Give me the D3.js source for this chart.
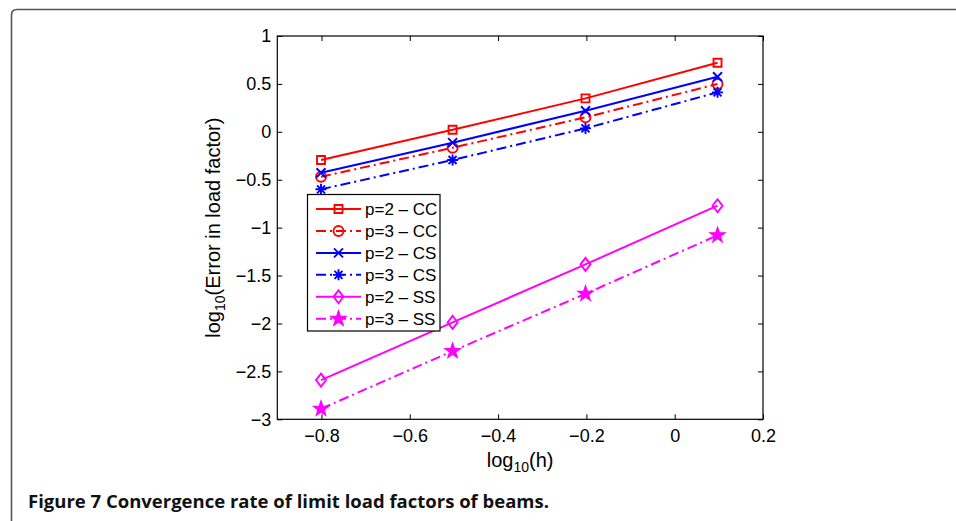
<!DOCTYPE html>
<html>
<head>
<meta charset="utf-8">
<script src="https://cdn.jsdelivr.net/npm/d3@7/dist/d3.min.js"></script>
<style>
  html, body { margin: 0; padding: 0; background: #fff; }
  svg { display: block; }
  .tick text { font-family: "Liberation Sans", Arial, Helvetica, sans-serif; font-size: 18px; fill: #000; }
</style>
</head>
<body>
<svg id="chart" width="956" height="521"></svg>
<script>
// x positions (log10 of mesh size h)
const logH = [-0.801, -0.503, -0.202, 0.097];

// log10 of the error in the limit load factor, one array per case
const cc2 = [-0.294, 0.022, 0.349, 0.721];
const cc3 = [-0.469, -0.166, 0.151, 0.499];
const cs2 = [-0.427, -0.113, 0.220, 0.575];
const cs3 = [-0.600, -0.294, 0.036, 0.412];
const ss2 = [-2.591, -1.989, -1.383, -0.771];
const ss3 = [-2.890, -2.288, -1.690, -1.080];

const seriesNames = ["p=2 \u2013 CC", "p=3 \u2013 CC", "p=2 \u2013 CS", "p=3 \u2013 CS", "p=2 \u2013 SS", "p=3 \u2013 SS"];
const seriesColors = ["#ff0000", "#ff0000", "#0000ff", "#0000ff", "#ff00ff", "#ff00ff"];
const seriesMarkers = ["square", "circle", "cross", "asterisk", "diamond", "star"];
const seriesDashed = [false, true, false, true, false, true];

const xTicks = [-0.8, -0.6, -0.4, -0.2, 0, 0.2];
const yTicks = [-3, -2.5, -2, -1.5, -1, -0.5, 0, 0.5, 1];

const captionText = "Figure 7 Convergence rate of limit load factors of beams.";

const seriesValues = [cc2, cc3, cs2, cs3, ss2, ss3];

const svg = d3.select("#chart");
const FONT = '"Liberation Sans", Arial, Helvetica, sans-serif';

// page frame with rounded upper-left corner
svg.append("path")
  .attr("d", "M11.5,521 L11.5,15 Q11.5,9.5 17,9.5 L956,9.5")
  .attr("fill", "none")
  .attr("stroke", "#555")
  .attr("stroke-width", 1.6);

const plot = { left: 277.3, right: 763, top: 36, bottom: 419.3 };

const x = d3.scaleLinear().domain([-0.9, 0.2]).range([plot.left, plot.right]);
const y = d3.scaleLinear().domain([-3, 1]).range([plot.bottom, plot.top]);

const fmt = d3.format("~g");

// axes: ticks pointing inward on all four sides
const gB = svg.append("g").attr("transform", `translate(0,${plot.bottom})`)
  .call(d3.axisBottom(x).tickValues(xTicks).tickFormat(fmt).tickSizeInner(-5).tickSizeOuter(0).tickPadding(10));
const gL = svg.append("g").attr("transform", `translate(${plot.left},0)`)
  .call(d3.axisLeft(y).tickValues(yTicks).tickFormat(fmt).tickSizeInner(-5).tickSizeOuter(0).tickPadding(6));
const gT = svg.append("g").attr("transform", `translate(0,${plot.top})`)
  .call(d3.axisTop(x).tickValues(xTicks).tickFormat("").tickSizeInner(-5).tickSizeOuter(0));
const gR = svg.append("g").attr("transform", `translate(${plot.right},0)`)
  .call(d3.axisRight(y).tickValues(yTicks).tickFormat("").tickSizeInner(-5).tickSizeOuter(0));

[gB, gL, gT, gR].forEach(g => {
  g.select(".domain").remove();
  g.selectAll(".tick line").attr("stroke", "#000").attr("stroke-width", 1);
});

svg.append("rect")
  .attr("x", plot.left).attr("y", plot.top)
  .attr("width", plot.right - plot.left).attr("height", plot.bottom - plot.top)
  .attr("fill", "none").attr("stroke", "#000").attr("stroke-width", 1.2);

// marker outlines
function markerPath(kind) {
  switch (kind) {
    case "square": return "M-4,-4H4V4H-4Z";
    case "circle": return "M5,0A5,5 0 1,1 -5,0A5,5 0 1,1 5,0Z";
    case "cross": return "M-4.5,-4.5L4.5,4.5M-4.5,4.5L4.5,-4.5";
    case "asterisk": return "M0,-5.5V5.5M-5.5,0H5.5M-4,-4L4,4M-4,4L4,-4";
    case "diamond": return "M0,-6.5L5,0L0,6.5L-5,0Z";
    case "star": {
      const pts = [];
      for (let i = 0; i < 10; i++) {
        const r = i % 2 === 0 ? 8 : 3.2;
        const a = -Math.PI / 2 + i * Math.PI / 5;
        pts.push([r * Math.cos(a), r * Math.sin(a)]);
      }
      return "M" + pts.map(p => p[0].toFixed(2) + "," + p[1].toFixed(2)).join("L") + "Z";
    }
  }
}

function drawMarker(g, kind, color, cx, cy) {
  g.append("path")
    .attr("d", markerPath(kind))
    .attr("transform", `translate(${cx},${cy})`)
    .attr("fill", kind === "star" ? color : "none")
    .attr("stroke", color)
    .attr("stroke-width", kind === "star" ? 1.2 : 1.9)
    .attr("stroke-linejoin", "miter");
}

const line = d3.line().x(d => x(d[0])).y(d => y(d[1]));
const DASHDOT = "10,4,2,4";

const gSeries = svg.append("g");
seriesValues.forEach((vals, i) => {
  const pts = vals.map((v, k) => [logH[k], v]);
  gSeries.append("path")
    .attr("d", line(pts))
    .attr("fill", "none")
    .attr("stroke", seriesColors[i])
    .attr("stroke-width", 2)
    .attr("stroke-dasharray", seriesDashed[i] ? DASHDOT : null);
  pts.forEach(p => drawMarker(gSeries, seriesMarkers[i], seriesColors[i], x(p[0]), y(p[1])));
});

// legend
const lg = svg.append("g");
const lgBox = { x: 307.5, y: 194.5, w: 132.5, h: 136.5 };
lg.append("rect")
  .attr("x", lgBox.x).attr("y", lgBox.y).attr("width", lgBox.w).attr("height", lgBox.h)
  .attr("fill", "#fff").attr("stroke", "#000").attr("stroke-width", 1.2);
seriesNames.forEach((name, i) => {
  const ry = 209 + i * 21.95;
  lg.append("line")
    .attr("x1", 316).attr("x2", 361).attr("y1", ry).attr("y2", ry)
    .attr("stroke", seriesColors[i]).attr("stroke-width", 2)
    .attr("stroke-dasharray", seriesDashed[i] ? DASHDOT : null);
  drawMarker(lg, seriesMarkers[i], seriesColors[i], 338.5, ry);
  lg.append("text")
    .attr("x", 365).attr("y", ry + 6.1)
    .attr("font-family", FONT).attr("font-size", 17)
    .text(name);
});

// axis titles
const xt = svg.append("text")
  .attr("x", (plot.left + plot.right) / 2).attr("y", 467)
  .attr("text-anchor", "middle")
  .attr("font-family", FONT).attr("font-size", 20);
xt.append("tspan").text("log");
xt.append("tspan").attr("font-size", 14).attr("dy", 5).text("10");
xt.append("tspan").attr("dy", -5).text("(h)");

const yt = svg.append("text")
  .attr("transform", `translate(220,${(plot.top + plot.bottom) / 2}) rotate(-90)`)
  .attr("text-anchor", "middle")
  .attr("font-family", FONT).attr("font-size", 20);
yt.append("tspan").text("log");
yt.append("tspan").attr("font-size", 14).attr("dy", 5).text("10");
yt.append("tspan").attr("dy", -5).text("(Error in load factor)");

// caption
const cap = svg.append("text")
  .attr("x", 28).attr("y", 508)
  .attr("font-family", '"Open Sans", "Noto Sans", sans-serif')
  .attr("font-weight", "bold")
  .attr("font-size", 17.5)
  .attr("fill", "#111")
  .text(captionText);
const natural = cap.node().getComputedTextLength();
const target = 521;
if (Math.abs(natural - target) / target < 0.2) {
  cap.attr("textLength", target).attr("lengthAdjust", "spacingAndGlyphs");
}
</script>
</body>
</html>
